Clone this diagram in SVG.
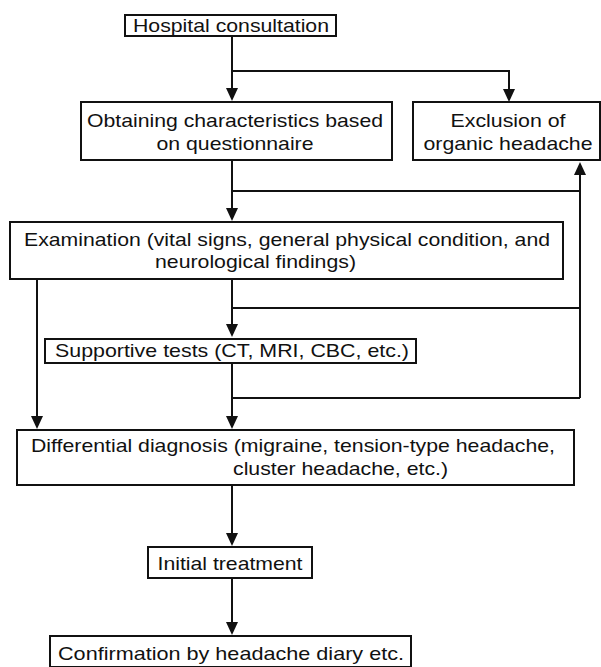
<svg xmlns="http://www.w3.org/2000/svg" width="601" height="667" viewBox="0 0 601 667">
<style>
.box{fill:#fff;stroke:#111;stroke-width:2}
.t{font-family:"Liberation Sans",Arial,Helvetica,sans-serif;font-size:18.5px;fill:#111}
.m{text-anchor:middle}
.c{fill:none;stroke:#111;stroke-width:2}
</style>
<defs>
<marker id="ah" viewBox="0 0 13 12" markerWidth="13" markerHeight="12" refX="9" refY="6" orient="auto" markerUnits="userSpaceOnUse">
<path d="M0,0 L13,6 L0,12 z" fill="#111"/>
</marker>
</defs>
<rect width="601" height="667" fill="#fff"/>
<g id="connectors">
<path class="c" d="M232,36 V97" marker-end="url(#ah)"/>
<path class="c" d="M232,71 H509 V98" marker-end="url(#ah)"/>
<path class="c" d="M232,160 V217" marker-end="url(#ah)"/>
<path class="c" d="M232,191 H580"/>
<path class="c" d="M580,398 V166" marker-end="url(#ah)"/>
<path class="c" d="M232,279 V333" marker-end="url(#ah)"/>
<path class="c" d="M232,308 H580"/>
<path class="c" d="M37,279 V425" marker-end="url(#ah)"/>
<path class="c" d="M232,363 V425" marker-end="url(#ah)"/>
<path class="c" d="M232,398 H580"/>
<path class="c" d="M232,485 V542" marker-end="url(#ah)"/>
<path class="c" d="M232,578 V631" marker-end="url(#ah)"/>
</g>
<g id="hospital">
<rect class="box" x="125" y="15" width="211" height="21"/>
<text class="t m" x="231" y="32" textLength="196" lengthAdjust="spacingAndGlyphs">Hospital consultation</text>
</g>
<g id="questionnaire">
<rect class="box" x="81" y="102" width="311" height="58"/>
<text class="t m" x="235" y="127" textLength="296" lengthAdjust="spacingAndGlyphs">Obtaining characteristics based</text>
<text class="t m" x="235" y="150" textLength="157" lengthAdjust="spacingAndGlyphs">on questionnaire</text>
</g>
<g id="exclusion">
<rect class="box" x="413" y="102" width="187" height="58"/>
<text class="t m" x="508" y="127" textLength="115" lengthAdjust="spacingAndGlyphs">Exclusion of</text>
<text class="t m" x="508" y="150" textLength="169" lengthAdjust="spacingAndGlyphs">organic headache</text>
</g>
<g id="examination">
<rect class="box" x="10" y="222" width="553" height="57"/>
<text class="t" x="24" y="246" textLength="526" lengthAdjust="spacingAndGlyphs">Examination (vital signs, general physical condition, and</text>
<text class="t" x="155" y="268" textLength="201" lengthAdjust="spacingAndGlyphs">neurological findings)</text>
</g>
<g id="supportive">
<rect class="box" x="45" y="339" width="371" height="24"/>
<text class="t m" x="232" y="357" textLength="354" lengthAdjust="spacingAndGlyphs">Supportive tests (CT, MRI, CBC, etc.)</text>
</g>
<g id="differential">
<rect class="box" x="17" y="430" width="557" height="55"/>
<text class="t" x="31" y="452" textLength="524" lengthAdjust="spacingAndGlyphs">Differential diagnosis (migraine, tension-type headache,</text>
<text class="t" x="233" y="475" textLength="215" lengthAdjust="spacingAndGlyphs">cluster headache, etc.)</text>
</g>
<g id="initial">
<rect class="box" x="148" y="547" width="164" height="31"/>
<text class="t m" x="230" y="570" textLength="145" lengthAdjust="spacingAndGlyphs">Initial treatment</text>
</g>
<g id="confirmation">
<rect class="box" x="50" y="636" width="361" height="31"/>
<text class="t m" x="231" y="660" textLength="346" lengthAdjust="spacingAndGlyphs">Confirmation by headache diary etc.</text>
</g>
</svg>
